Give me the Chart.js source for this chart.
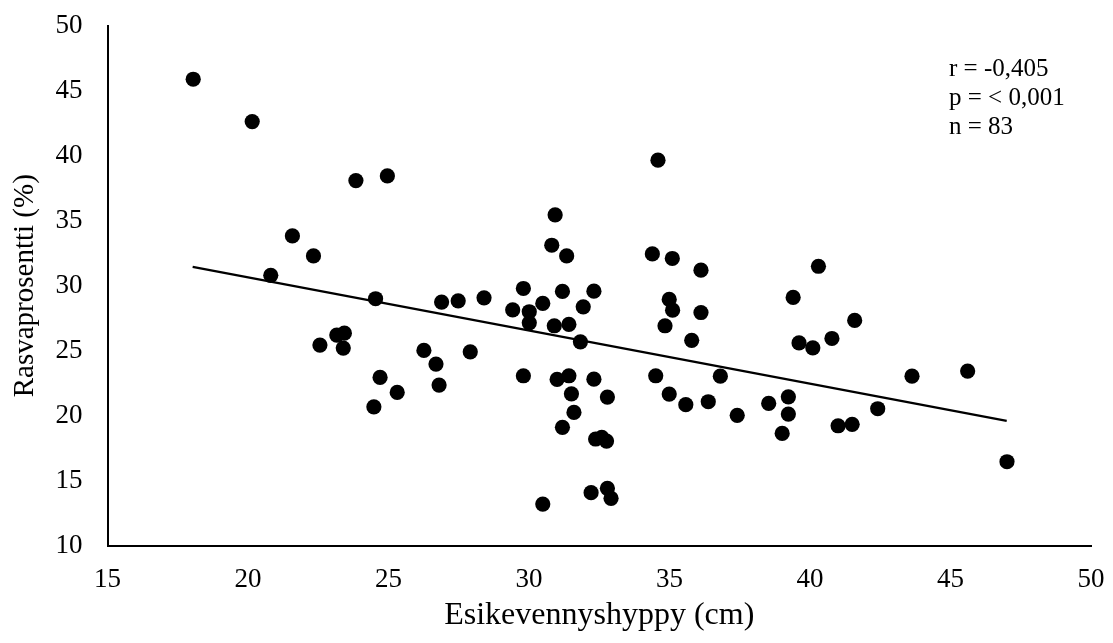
<!DOCTYPE html>
<html>
<head>
<meta charset="utf-8">
<script src="https://cdn.jsdelivr.net/npm/chart.js@4"></script>
<style>
  html, body { margin: 0; padding: 0; background: #fff; }
  #c { display: block; }
</style>
</head>
<body>
<canvas id="c" width="1113" height="643"></canvas>
<script>
// Esikevennyshyppy (cm)
const jumpCm = [18.05, 20.15, 20.81, 21.58, 22.33, 22.56, 23.16, 23.43, 23.39, 23.84,
  24.96, 24.54, 24.70, 24.48, 25.31, 26.26, 26.69, 26.80, 26.89, 27.48,
  27.91, 28.40, 29.42, 29.80, 29.80, 30.01, 30.01, 30.49, 30.49, 30.93,
  30.81, 30.90, 31.00, 31.19, 31.19, 31.34, 31.42, 31.42, 31.51, 31.60,
  31.83, 31.93, 32.31, 32.31, 32.37, 32.59, 32.76, 32.79, 32.21, 32.79,
  32.92, 34.39, 34.59, 34.51, 34.84, 34.99, 34.99, 35.10, 35.11, 35.58,
  35.79, 36.12, 36.12, 36.38, 36.81, 37.41, 38.53, 39.01, 39.23, 39.23,
  39.40, 39.61, 40.10, 40.30, 40.78, 41.00, 41.50, 41.59, 42.41, 43.63,
  45.61, 47.01];
// Rasvaprosentti (%)
const fatPct = [45.9, 42.64, 30.8, 33.84, 32.3, 25.43, 26.2, 26.35, 25.2, 38.1,
  38.46, 29.0, 22.94, 20.68, 21.79, 25.02, 23.97, 22.35, 28.74, 28.84,
  24.91, 29.07, 28.15, 29.79, 23.07, 28.0, 27.15, 28.64, 13.19, 35.45,
  33.12, 26.92, 22.79, 29.56, 19.1, 32.3, 27.02, 23.07, 21.68, 20.25,
  25.68, 28.38, 29.58, 22.81, 18.2, 18.32, 18.04, 21.43, 14.07, 14.4,
  13.63, 32.45, 39.67, 23.07, 26.92, 28.95, 21.66, 32.1, 28.12, 20.84,
  25.8, 31.2, 27.94, 21.07, 23.04, 20.02, 20.94, 18.63, 21.45, 20.12,
  29.1, 25.6, 25.22, 31.5, 25.94, 19.22, 19.33, 27.33, 20.53, 23.04,
  23.43, 16.45];
// Trend line end points
const trendX = [18.03, 47.0];
const trendY = [31.45, 19.6];
// Statistics annotation
const statLines = ['r = -0,405', 'p = < 0,001', 'n = 83'];
const xTitle = 'Esikevennyshyppy (cm)';
const yTitle = 'Rasvaprosentti (%)';
const xMin = 15, xMax = 50, xStep = 5;
const yMin = 10, yMax = 50, yStep = 5;

const FONT = "'Liberation Serif', 'Times New Roman', serif";

const scatterData = jumpCm.map((x, i) => ({ x: x, y: fatPct[i] }));
const trendData = trendX.map((x, i) => ({ x: x, y: trendY[i] }));

const statsPlugin = {
  id: 'stats',
  afterDraw(chart) {
    const ctx = chart.ctx;
    ctx.save();
    ctx.fillStyle = '#000';
    ctx.font = "25px " + FONT;
    ctx.textAlign = 'left';
    ctx.textBaseline = 'middle';
    statLines.forEach((t, i) => ctx.fillText(t, 949, 69 + i * 29));
    ctx.restore();
  }
};

new Chart(document.getElementById('c'), {
  type: 'scatter',
  data: {
    datasets: [
      {
        label: 'data',
        data: scatterData,
        backgroundColor: '#000',
        borderColor: '#000',
        borderWidth: 0,
        pointRadius: 7.6,
        pointHoverRadius: 7.6,
        clip: false
      },
      {
        type: 'line',
        label: 'trend',
        data: trendData,
        borderColor: '#000',
        borderWidth: 2.2,
        pointRadius: 0,
        fill: false,
        showLine: true,
        clip: false
      }
    ]
  },
  options: {
    responsive: false,
    animation: false,
    devicePixelRatio: 1,
    layout: { autoPadding: false, padding: { top: 26, right: 22, bottom: 0, left: 0 } },
    plugins: { legend: { display: false }, tooltip: { enabled: false } },
    scales: {
      x: {
        type: 'linear', min: xMin, max: xMax,
        grid: { display: false, drawTicks: false },
        border: { display: true, color: '#000', width: 2 },
        ticks: { stepSize: xStep, padding: 18, color: '#000', font: { family: FONT, size: 27 } },
        title: { display: true, text: xTitle, color: '#000', font: { family: FONT, size: 32 }, padding: { top: 0, bottom: 8 } },
        afterFit(scale) { scale.height = 97.5; scale.paddingLeft = 0; scale.paddingRight = 0; }
      },
      y: {
        type: 'linear', min: yMin, max: yMax,
        grid: { display: false, drawTicks: false },
        border: { display: true, color: '#000', width: 2 },
        ticks: { stepSize: yStep, padding: 25, color: '#000', font: { family: FONT, size: 27 } },
        title: { display: true, text: yTitle, color: '#000', font: { family: FONT, size: 29 }, padding: { top: 8, bottom: 0 } },
        afterFit(scale) { scale.width = 107.5; scale.paddingTop = 0; scale.paddingBottom = 0; }
      }
    }
  },
  plugins: [statsPlugin]
});
</script>
</body>
</html>
